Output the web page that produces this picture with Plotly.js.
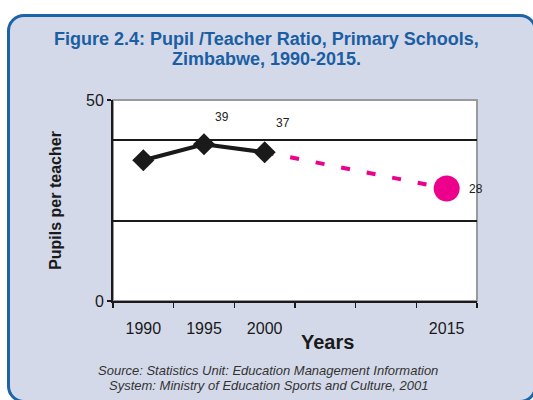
<!DOCTYPE html>
<html>
<head>
<meta charset="utf-8">
<script src="https://cdn.plot.ly/plotly-3.0.1.min.js"></script>
<style>
  html, body { margin: 0; padding: 0; background: #ffffff; width: 533px; height: 400px; overflow: hidden; }
  #panel { position: absolute; left: 7px; top: 14px; width: 524px; height: 383px;
           border: 3px solid #1b64a8; border-radius: 17px; background: #d3d9e9; }
  #chart { position: absolute; left: 0; top: 0; width: 533px; height: 400px; }
</style>
</head>
<body>
<div id="panel"></div>
<div id="chart"></div>
<script>
// Actual data
const years = [1990, 1995, 2000];
const ratio = [35, 39, 37];
// Projection
const projYears = [2000, 2015];
const projRatio = [37, 28];
const targetYear = [2015];
const targetRatio = [28];
// Data labels shown in the chart
const labelYears = [1995, 2000, 2015];
const labelVals = [39, 37, 28];
// Tick labels
const tickYears = [1990, 1995, 2000, 2015];
const tickText = ['1990', '1995', '2000', '2015'];

const FONT = 'Liberation Sans, Arial, Helvetica, sans-serif';
const labelShifts = [[18, 27], [18, 29], [29, -1]];

const traces = [
  { x: projYears, y: projRatio, type: 'scatter', mode: 'lines',
    line: { color: '#ec008c', width: 4, dash: '9px,17px' }, hoverinfo: 'skip' },
  { x: years, y: ratio, type: 'scatter', mode: 'lines+markers',
    line: { color: '#1a1a1a', width: 4 },
    marker: { symbol: 'diamond', size: 17, color: '#1a1a1a' } },
  { x: targetYear, y: targetRatio, type: 'scatter', mode: 'markers',
    marker: { symbol: 'circle', size: 26, color: '#ec008c' } }
];

const annotations = labelYears.map((yr, i) => ({
  x: yr, y: labelVals[i], xref: 'x', yref: 'y', text: String(labelVals[i]),
  showarrow: false, xshift: labelShifts[i][0], yshift: labelShifts[i][1],
  font: { family: FONT, size: 12, color: '#222' }
}));
const titleFont = { family: FONT, size: 18, color: '#1b5ea3' };
annotations.push({
  x: 0.423, y: 1.305, xref: 'paper', yref: 'paper', xanchor: 'center', yanchor: 'middle',
  text: '<b>Figure 2.4: Pupil /Teacher Ratio, Primary Schools,</b>', showarrow: false, font: titleFont
});
annotations.push({
  x: 0.423, y: 1.205, xref: 'paper', yref: 'paper', xanchor: 'center', yanchor: 'middle',
  text: '<b>Zimbabwe, 1990-2015.</b>', showarrow: false, font: titleFont
});
annotations.push({
  x: 0.59, y: -0.14, xref: 'paper', yref: 'paper', text: '<b>Years</b>', showarrow: false,
  font: { family: FONT, size: 20, color: '#1a1a1a' }, xanchor: 'center', yanchor: 'top'
});
const srcFont = { family: FONT, size: 13, color: '#333' };
annotations.push({
  x: 0.426, y: -0.345, xref: 'paper', yref: 'paper', xanchor: 'center', yanchor: 'middle',
  text: '<i>Source: Statistics Unit: Education Management Information</i>', showarrow: false, font: srcFont
});
annotations.push({
  x: 0.426, y: -0.42, xref: 'paper', yref: 'paper', xanchor: 'center', yanchor: 'middle',
  text: '<i>System: Ministry of Education Sports and Culture, 2001</i>', showarrow: false, font: srcFont
});

const layout = {
  width: 533, height: 400,
  margin: { l: 113, r: 56, t: 100, b: 99 },
  paper_bgcolor: 'rgba(0,0,0,0)',
  plot_bgcolor: '#ffffff',
  showlegend: false,
  font: { family: FONT, color: '#1a1a1a' },
  xaxis: {
    range: [1987.5, 2017.5],
    tickmode: 'array', tickvals: tickYears, ticktext: tickText,
    ticks: '', ticklabelstandoff: 12,
    tickfont: { family: FONT, size: 16, color: '#1a1a1a' },
    showgrid: false, zeroline: false,
    showline: true, linecolor: '#1a1a1a', linewidth: 2,
    minor: { tick0: 1987.5, dtick: 5, ticks: 'outside', ticklen: 5, tickwidth: 1.5, tickcolor: '#1a1a1a', showgrid: false },
    fixedrange: true
  },
  yaxis: {
    range: [0, 50],
    tickmode: 'array', tickvals: [0, 50],
    ticks: 'outside', ticklen: 4, tickwidth: 1.5, tickcolor: '#1a1a1a',
    tickfont: { family: FONT, size: 16, color: '#1a1a1a' },
    showgrid: false, zeroline: false,
    showline: true, linecolor: '#1a1a1a', linewidth: 2,
    minor: { tickvals: [20, 40], showgrid: true, gridcolor: '#1a1a1a', gridwidth: 2, ticks: '' },
    title: { text: '<b>Pupils per teacher</b>', font: { family: FONT, size: 16, color: '#1a1a1a' }, standoff: 20 },
    fixedrange: true
  },
  shapes: [
    { type: 'rect', xref: 'paper', yref: 'paper', x0: 0, x1: 1, y0: 0, y1: 1,
      line: { color: '#9a9a9a', width: 2 }, layer: 'below' }
  ],
  annotations: annotations
};

Plotly.newPlot('chart', traces, layout, { displayModeBar: false, staticPlot: true });
</script>
</body>
</html>
